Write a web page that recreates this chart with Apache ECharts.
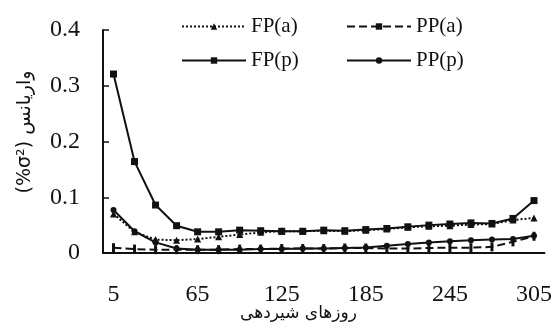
<!DOCTYPE html>
<html>
<head>
<meta charset="utf-8">
<script src="https://cdn.jsdelivr.net/npm/echarts@6.0.0/dist/echarts.min.js"></script>
<style>
  html, body { margin: 0; padding: 0; background: #fff; }
  #chart { width: 555px; height: 327px; }
</style>
</head>
<body>
<div id="chart"></div>
<script>
// days in milk, one point every 15 days
const days = ['5', '20', '35', '50', '65', '80', '95', '110', '125', '140', '155',
  '170', '185', '200', '215', '230', '245', '260', '275', '290', '305']

const fpA = [0.070, 0.038, 0.024, 0.023, 0.025, 0.029, 0.033, 0.037, 0.039, 0.039, 0.040,
  0.039, 0.041, 0.043, 0.046, 0.048, 0.049, 0.051, 0.052, 0.059, 0.063]
const fpP = [0.321, 0.164, 0.086, 0.049, 0.038, 0.038, 0.041, 0.040, 0.039, 0.039, 0.041,
  0.040, 0.042, 0.044, 0.047, 0.050, 0.052, 0.054, 0.053, 0.062, 0.094]
const ppA = [0.0095, 0.007, 0.006, 0.006, 0.006, 0.006, 0.007, 0.007, 0.008, 0.008, 0.008,
  0.009, 0.009, 0.008, 0.008, 0.009, 0.0095, 0.0095, 0.011, 0.020, 0.030]
const ppP = [0.077, 0.039, 0.019, 0.008, 0.006, 0.006, 0.006, 0.007, 0.007, 0.008, 0.008,
  0.009, 0.010, 0.013, 0.016, 0.019, 0.021, 0.023, 0.024, 0.025, 0.031]

const yTicks = [0, 0.1, 0.2, 0.3, 0.4]

const ink = '#111'
const serif = '"Liberation Serif", "Times New Roman", serif'
const arabic = '"DejaVu Sans", "Noto Sans", sans-serif'

const chart = echarts.init(document.getElementById('chart'))

const legendItem = (name, left, top) => ({
  data: [name],
  left,
  top,
  itemWidth: 64,
  itemHeight: 8,
  selectedMode: false,
  textStyle: { fontFamily: serif, fontSize: 21, color: ink },
})

const lineSeries = (name, data, symbol, symbolSize, lineType) => ({
  name,
  type: 'line',
  data,
  symbol,
  symbolSize,
  showSymbol: true,
  animation: false,
  itemStyle: { color: ink },
  lineStyle: { color: ink, width: 2, type: lineType },
})

const option = {
  backgroundColor: '#fff',
  animation: false,
  legend: [
    legendItem('FP(a)', 176, 11),
    legendItem('PP(a)', 341, 11),
    legendItem('FP(p)', 176, 45),
    legendItem('PP(p)', 341, 45),
  ],
  grid: { left: 103, right: 10, top: 30, bottom: 74 },
  xAxis: {
    type: 'category',
    data: days,
    boundaryGap: true,
    axisLine: { lineStyle: { color: ink, width: 2 } },
    axisTick: { interval: 3, inside: true, length: 6, lineStyle: { color: ink, width: 1.5 } },
    axisLabel: {
      interval: 3,
      margin: 30,
      color: ink,
      fontFamily: serif,
      fontSize: 24,
    },
    splitLine: { show: false },
  },
  yAxis: {
    type: 'value',
    min: yTicks[0],
    max: yTicks[yTicks.length - 1],
    interval: 0.1,
    axisLine: { show: true, lineStyle: { color: ink, width: 2 } },
    axisTick: { show: true, inside: true, length: 6, lineStyle: { color: ink, width: 1.5 } },
    axisLabel: {
      margin: 23,
      color: ink,
      fontFamily: serif,
      fontSize: 24,
      formatter: (v) => String(Math.round(v * 10) / 10),
    },
    splitLine: { show: false },
  },
  graphic: [
    {
      type: 'text',
      left: 240,
      top: 305,
      style: { text: 'روزهای شیردهی', font: '17px ' + arabic, fill: ink },
    },
    {
      type: 'text',
      x: 25,
      y: 132,
      rotation: Math.PI / 2,
      style: {
        text: '(%σ²) واریانس',
        font: '19px ' + arabic,
        fill: ink,
        align: 'center',
        verticalAlign: 'middle',
      },
    },
  ],
  series: [
    lineSeries('FP(a)', fpA, 'triangle', 7, 'dotted'),
    lineSeries('PP(a)', ppA, 'path://M4,0h2v10h-2z', [3, 9], 'dashed'),
    lineSeries('FP(p)', fpP, 'rect', 7, 'solid'),
    lineSeries('PP(p)', ppP, 'circle', 6, 'solid'),
  ],
}

chart.setOption(option)
</script>
</body>
</html>
